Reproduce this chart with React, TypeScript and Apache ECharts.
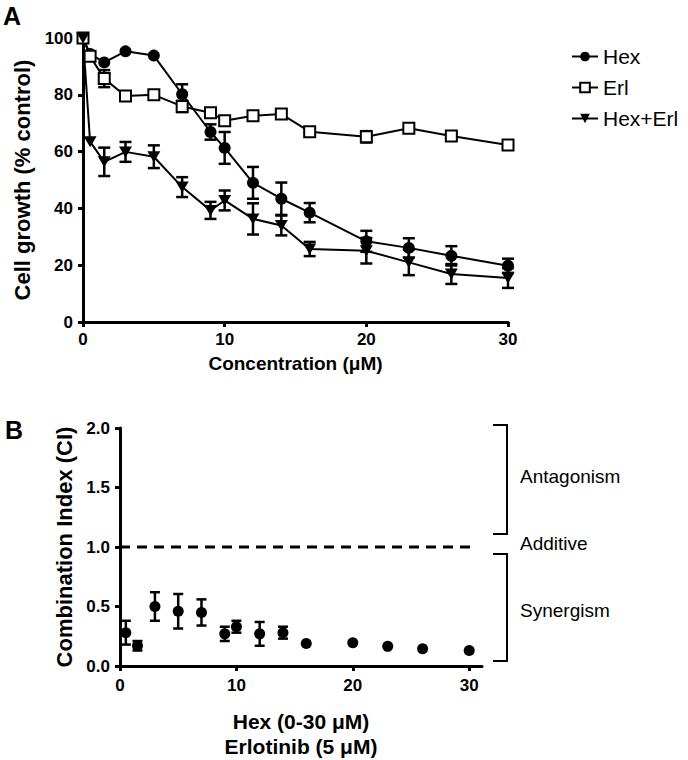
import React, { useEffect, useRef } from "react";
import * as echarts from "echarts";

// ---------- Panel A data ----------
const concA = [0, 0.5, 1.5, 3, 5, 7, 9, 10, 12, 14, 16, 20, 23, 26, 30];
const hexMean = [100, 94.4, 91.4, 95.3, 93.8, 80.2, 66.9, 61.3, 49.0, 43.4, 38.5, 28.4, 26.1, 23.3, 19.8];
const hexErr = [0, 0.8, 1.5, 0.8, 0.8, 3.5, 2.7, 5.6, 5.6, 5.7, 3.4, 3.7, 3.4, 3.4, 2.5];
const erlMean = [100, 93.6, 85.7, 79.6, 80.0, 75.9, 73.7, 70.9, 72.6, 73.2, 67.0, 65.2, 68.2, 65.5, 62.3];
const erlErr = [0, 1.5, 3.0, 1.0, 1.0, 2.0, 1.0, 1.0, 1.0, 1.0, 1.0, 2.0, 1.0, 1.0, 1.0];
const comboMean = [100, 63.5, 56.4, 59.9, 58.2, 47.5, 39.3, 42.8, 36.3, 34.0, 25.7, 25.1, 21.0, 16.9, 15.5];
const comboErr = [0, 1.5, 5.0, 3.5, 4.0, 3.5, 3.0, 3.5, 5.5, 3.5, 2.5, 4.5, 4.5, 3.5, 3.5];
const seriesNamesA = ["Hex", "Erl", "Hex+Erl"];
const ticksA_x = [0, 10, 20, 30];

// ---------- Panel B data ----------
const concB = [0.5, 1.5, 3, 5, 7, 9, 10, 12, 14, 16, 20, 23, 26, 30];
const ciMean = [0.28, 0.17, 0.5, 0.46, 0.45, 0.27, 0.33, 0.27, 0.28, 0.19, 0.195, 0.165, 0.145, 0.13];
const ciErr = [0.1, 0.04, 0.12, 0.145, 0.11, 0.06, 0.05, 0.1, 0.05, 0, 0, 0, 0, 0];
const additiveCI = 1.0;
const additiveSpan = [0, 30.3];
const ticksB_x = [0, 10, 20, 30];

const font = "'Liberation Sans', Arial, Helvetica, sans-serif";

const errData = (xs: number[], m: number[], e: number[]) =>
  xs.map((x, i) => [x, m[i] - e[i], m[i] + e[i]]).filter((d, i) => e[i] > 0);

const errorBarRender = (capHalf: number, minPx: number) => (params: any, api: any) => {
  const x = api.value(0);
  const lo = api.coord([x, api.value(1)]);
  const hi = api.coord([x, api.value(2)]);
  const style = { stroke: "#000", lineWidth: 2.5 };
  if (Math.abs(lo[1] - hi[1]) / 2 < minPx) return { type: "group", children: [] };
  return {
    type: "group",
    children: [
      { type: "line", shape: { x1: lo[0], y1: lo[1], x2: hi[0], y2: hi[1] }, style },
      { type: "line", shape: { x1: hi[0] - capHalf, y1: hi[1], x2: hi[0] + capHalf, y2: hi[1] }, style },
      { type: "line", shape: { x1: lo[0] - capHalf, y1: lo[1], x2: lo[0] + capHalf, y2: lo[1] }, style },
    ],
  };
};

const axisLineStyle = { color: "#000", width: 3 };
const tickLabel = { color: "#000", fontSize: 17, fontWeight: "bold" as const, fontFamily: font };
const nameStyle = { color: "#000", fontSize: 20, fontWeight: "bold" as const, fontFamily: font };

export default function App() {
  const ref = useRef<HTMLDivElement>(null);
  useEffect(() => {
    const chart = echarts.init(ref.current!, undefined, { renderer: "svg" });
    const option: any = {
      animation: false,
      backgroundColor: "#fff",
      grid: [
        { left: 83, top: 38, width: 425, height: 284 },
        { left: 120, top: 428, width: 362, height: 240 },
      ],
      xAxis: [
        {
          type: "value",
          gridIndex: 0,
          min: 0,
          max: 30,
          interval: 10,
          axisLine: { lineStyle: axisLineStyle },
          axisTick: { length: 5, lineStyle: { width: 3, color: "#000" }, customValues: ticksA_x },
          axisLabel: { ...tickLabel, margin: 9, customValues: ticksA_x },
          splitLine: { show: false },
          name: "Concentration (μM)",
          nameLocation: "middle",
          nameGap: 32,
          nameTextStyle: { ...nameStyle, fontSize: 19 },
        },
        {
          type: "value",
          gridIndex: 1,
          min: 0,
          max: 31.1,
          axisLine: { lineStyle: axisLineStyle },
          axisTick: { length: 5, lineStyle: { width: 3, color: "#000" }, customValues: ticksB_x },
          axisLabel: { ...tickLabel, margin: 11, customValues: ticksB_x },
          splitLine: { show: false },
          name: "Hex (0-30 μM)\nErlotinib (5 μM)",
          nameLocation: "middle",
          nameGap: 43,
          nameTextStyle: { ...nameStyle, fontSize: 21, lineHeight: 25, verticalAlign: "top" },
        },
      ],
      yAxis: [
        {
          type: "value",
          gridIndex: 0,
          min: 0,
          max: 100,
          interval: 20,
          axisLine: { lineStyle: axisLineStyle },
          axisTick: { length: 5, lineStyle: { width: 3, color: "#000" } },
          axisLabel: { ...tickLabel, margin: 10 },
          splitLine: { show: false },
          name: "Cell growth (% control)",
          nameLocation: "middle",
          nameGap: 44,
          nameTextStyle: { ...nameStyle, fontSize: 22 },
        },
        {
          type: "value",
          gridIndex: 1,
          min: 0,
          max: 2,
          interval: 0.5,
          axisLine: { lineStyle: axisLineStyle },
          axisTick: { length: 5, lineStyle: { width: 3, color: "#000" } },
          axisLabel: { ...tickLabel, margin: 10, formatter: (v: number) => v.toFixed(1) },
          splitLine: { show: false },
          name: "Combination Index (CI)",
          nameLocation: "middle",
          nameGap: 42,
          nameTextStyle: { ...nameStyle, fontSize: 22 },
        },
      ],
      legend: {
        orient: "vertical",
        left: 566,
        top: 40,
        itemWidth: 26,
        itemHeight: 12,
        itemGap: 8,
        textStyle: { fontSize: 21, fontFamily: font, color: "#000", lineHeight: 23 },
        data: seriesNamesA,
      },
      series: [
        {
          type: "custom",
          xAxisIndex: 0,
          yAxisIndex: 0,
          z: 1,
          silent: true,
          renderItem: errorBarRender(6, 5),
          encode: { x: 0, y: [1, 2] },
          data: [
            ...errData(concA, hexMean, hexErr),
            ...errData(concA, erlMean, erlErr),
            ...errData(concA, comboMean, comboErr),
          ],
        },
        {
          name: seriesNamesA[0],
          type: "line",
          xAxisIndex: 0,
          yAxisIndex: 0,
          data: concA.map((x, i) => [x, hexMean[i]]),
          symbol: "circle",
          symbolSize: 12,
          itemStyle: { color: "#000" },
          lineStyle: { color: "#000", width: 2 },
          z: 3,
        },
        {
          name: seriesNamesA[1],
          type: "line",
          xAxisIndex: 0,
          yAxisIndex: 0,
          data: concA.map((x, i) => [x, erlMean[i]]),
          symbol: "rect",
          symbolSize: 11,
          itemStyle: { color: "#fff", borderColor: "#000", borderWidth: 2 },
          lineStyle: { color: "#000", width: 2 },
          z: 3,
        },
        {
          name: seriesNamesA[2],
          type: "line",
          xAxisIndex: 0,
          yAxisIndex: 0,
          data: concA.map((x, i) => [x, comboMean[i]]),
          symbol: "triangle",
          symbolRotate: 180,
          symbolSize: [13, 11],
          itemStyle: { color: "#000" },
          lineStyle: { color: "#000", width: 2 },
          z: 3,
        },
        {
          type: "line",
          xAxisIndex: 1,
          yAxisIndex: 1,
          data: additiveSpan.map((x) => [x, additiveCI]),
          symbol: "none",
          lineStyle: { color: "#000", width: 3, type: [10, 7] },
          z: 1,
          silent: true,
        },
        {
          type: "custom",
          xAxisIndex: 1,
          yAxisIndex: 1,
          z: 1,
          silent: true,
          renderItem: errorBarRender(5, 3),
          encode: { x: 0, y: [1, 2] },
          data: errData(concB, ciMean, ciErr),
        },
        {
          type: "scatter",
          xAxisIndex: 1,
          yAxisIndex: 1,
          data: concB.map((x, i) => [x, ciMean[i]]),
          symbol: "circle",
          symbolSize: 11,
          itemStyle: { color: "#000", opacity: 1 },
          z: 3,
        },
      ],
      graphic: [
        { type: "text", left: 3, top: 3, style: { text: "A", font: `bold 25px ${font}`, fill: "#000" } },
        { type: "text", left: 5, top: 417, style: { text: "B", font: `bold 25px ${font}`, fill: "#000" } },
        {
          type: "polyline",
          shape: { points: [[493, 425], [507, 425], [507, 534], [493, 534]] },
          style: { stroke: "#000", lineWidth: 2, fill: "none" },
        },
        {
          type: "polyline",
          shape: { points: [[493, 554], [507, 554], [507, 661], [493, 661]] },
          style: { stroke: "#000", lineWidth: 2, fill: "none" },
        },
        { type: "text", x: 520, y: 476, style: { text: "Antagonism", font: `19px ${font}`, fill: "#000", verticalAlign: "middle" } },
        { type: "text", x: 520, y: 543, style: { text: "Additive", font: `19px ${font}`, fill: "#000", verticalAlign: "middle" } },
        { type: "text", x: 520, y: 610, style: { text: "Synergism", font: `19px ${font}`, fill: "#000", verticalAlign: "middle" } },
      ],
    };
    chart.setOption(option);
    return () => chart.dispose();
  }, []);
  return (
    <div
      ref={ref}
      style={{ position: "absolute", left: 0, top: 0, width: 688, height: 760, background: "#fff" }}
    />
  );
}
